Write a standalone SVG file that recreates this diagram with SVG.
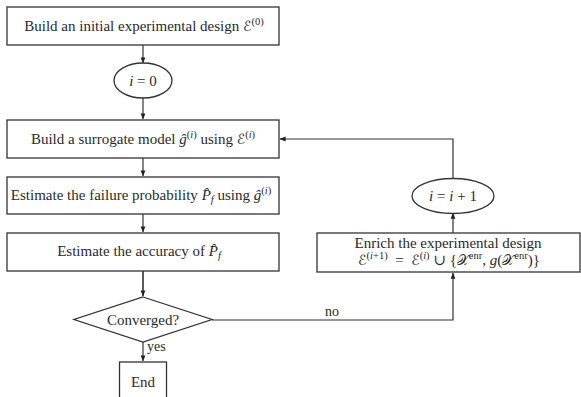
<svg xmlns="http://www.w3.org/2000/svg" width="581" height="397" viewBox="0 0 581 397">
  <style>
    .box { fill: #fff; stroke: #333; stroke-width: 1.3; }
    .lbl { font-family: "Liberation Serif", "DejaVu Serif", serif; font-size: 15px; fill: #2a2a2a; text-anchor: middle; }
    .sm { font-family: "Liberation Serif", "DejaVu Serif", serif; font-size: 14px; fill: #2a2a2a; }
    .it { font-style: italic; }
    .scr { font-family: "DejaVu Sans", "Noto Sans", sans-serif; font-style: normal; font-size: 14px; }
    .sup { font-size: 10.5px; }
    .edge { fill: none; stroke: #333; stroke-width: 1.2; }
  </style>
  <defs>
    <marker id="arr" viewBox="0 0 8 8" refX="7.5" refY="4" markerWidth="6" markerHeight="6" orient="auto" markerUnits="userSpaceOnUse">
      <path d="M0,0.8 L8,4 L0,7.2 Z" fill="#222"/>
    </marker>
  </defs>

  <!-- connectors -->
  <g id="connectors">
    <line class="edge" x1="143" y1="45" x2="143" y2="63" marker-end="url(#arr)"/>
    <line class="edge" x1="143" y1="98" x2="143" y2="119" marker-end="url(#arr)"/>
    <line class="edge" x1="143" y1="158" x2="143" y2="176" marker-end="url(#arr)"/>
    <line class="edge" x1="143" y1="214" x2="143" y2="232" marker-end="url(#arr)"/>
    <line class="edge" x1="143" y1="271" x2="143" y2="296" marker-end="url(#arr)" style="stroke-width:1.6"/>
    <line class="edge" x1="143" y1="342" x2="143" y2="361" marker-end="url(#arr)"/>
    <text class="sm" x="147" y="351">yes</text>
    <polyline class="edge" points="212,320 453,320 453,273" marker-end="url(#arr)"/>
    <text class="sm" x="325" y="316">no</text>
    <line class="edge" x1="453" y1="233" x2="453" y2="213" marker-end="url(#arr)"/>
    <polyline class="edge" points="453,178 453,139 280,139" marker-end="url(#arr)"/>
  </g>

  <!-- initial design -->
  <g id="init-design">
    <rect class="box" x="7" y="7" width="272" height="38"/>
    <text class="lbl" x="144" y="31">Build an initial experimental design <tspan class="scr">ℰ</tspan><tspan class="sup" dy="-6">(0)</tspan></text>
  </g>

  <!-- counter init -->
  <g id="counter-init">
    <ellipse class="box" cx="143" cy="80.5" rx="29" ry="17.5"/>
    <text class="lbl" x="143" y="85.5"><tspan class="it">i</tspan> = 0</text>
  </g>

  <!-- surrogate -->
  <g id="surrogate">
    <rect class="box" x="7" y="120" width="272" height="38"/>
    <text class="lbl" x="143" y="144">Build a surrogate model <tspan class="it">ĝ</tspan><tspan class="sup" dy="-6">(<tspan class="it">i</tspan>)</tspan><tspan dy="6"> using </tspan><tspan class="scr">ℰ</tspan><tspan class="sup" dy="-6">(<tspan class="it">i</tspan>)</tspan></text>
  </g>

  <!-- failure probability -->
  <g id="failure-prob">
    <rect class="box" x="7" y="177" width="272" height="37"/>
    <text class="lbl" x="141" y="200">Estimate the failure probability <tspan class="it">P̂</tspan><tspan class="sup it" dy="3">f</tspan><tspan dy="-3"> using </tspan><tspan class="it">ĝ</tspan><tspan class="sup" dy="-6">(<tspan class="it">i</tspan>)</tspan></text>
  </g>

  <!-- accuracy -->
  <g id="accuracy">
    <rect class="box" x="7" y="233" width="272" height="38"/>
    <text class="lbl" x="139" y="256">Estimate the accuracy of <tspan class="it">P̂</tspan><tspan class="sup it" dy="3">f</tspan></text>
  </g>

  <!-- convergence check -->
  <g id="converged">
    <polygon class="box" points="143,297 212,319.5 143,342 74,319.5"/>
    <text class="lbl" x="143" y="324.5">Converged?</text>
  </g>

  <!-- end -->
  <g id="end">
    <rect class="box" x="119.5" y="362" width="47" height="40"/>
    <text class="lbl" x="143" y="387">End</text>
  </g>

  <!-- enrichment -->
  <g id="enrich">
    <rect class="box" x="317" y="233" width="263" height="39"/>
    <text class="lbl" x="448" y="248">Enrich the experimental design</text>
    <text class="lbl" x="449" y="265"><tspan class="scr">ℰ</tspan><tspan class="sup" dy="-6">(<tspan class="it">i</tspan>+1)</tspan><tspan dy="6">&#160;&#160;=&#160;&#160;</tspan><tspan class="scr">ℰ</tspan><tspan class="sup" dy="-6">(<tspan class="it">i</tspan>)</tspan><tspan dy="6"> ∪ {</tspan><tspan class="scr">𝒳</tspan><tspan class="sup" dy="-6">enr</tspan><tspan dy="6">, </tspan><tspan class="it">g</tspan>(<tspan class="scr">𝒳</tspan><tspan class="sup" dy="-6">enr</tspan><tspan dy="6">)}</tspan></text>
  </g>

  <!-- counter increment -->
  <g id="counter-inc">
    <ellipse class="box" cx="453" cy="196" rx="41" ry="17.5"/>
    <text class="lbl" x="453" y="201"><tspan class="it">i</tspan> = <tspan class="it">i</tspan> + 1</text>
  </g>
</svg>
